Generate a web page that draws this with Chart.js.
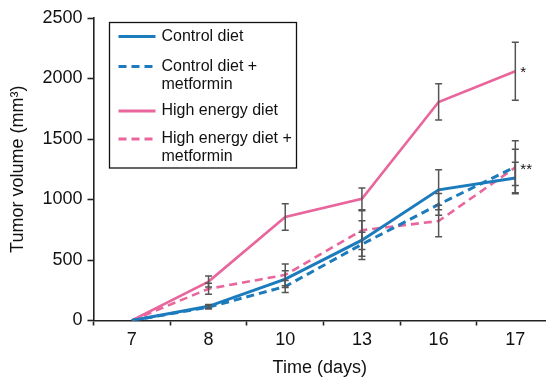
<!DOCTYPE html>
<html>
<head>
<meta charset="utf-8">
<script src="https://cdn.jsdelivr.net/npm/chart.js@4/dist/chart.umd.min.js"></script>
<style>
  html, body { margin: 0; padding: 0; background: #fff; }
  #wrap { width: 546px; height: 379px; }
</style>
</head>
<body>
<div id="wrap"><canvas id="c" width="546" height="379"></canvas></div>
<script>
// ---- data ----
const categories = ["7", "8", "10", "13", "16", "17"];
const seriesLabels = ["Control diet", "Control diet +\nmetformin", "High energy diet", "High energy diet +\nmetformin"];
const controlDiet      = [0, 117, 342, 664, 1080, 1178];
const controlMetformin = [0, 110, 281, 630, 959, 1270];
const highEnergy       = [0, 322, 855, 1006, 1806, 2060];
const highMetformin    = [0, 262, 377, 746, 822, 1265];
const controlDietErr      = [0, 15, 70, 160, 165, 130];
const controlMetforminErr = [0, 15, 50, 100, 90, 215];
const highEnergyErr       = [0, 45, 110, 90, 150, 240];
const highMetforminErr    = [0, 45, 90, 160, 130, 150];
const significance = ["", "", "*", "**"];
const yTicks = [0, 500, 1000, 1500, 2000, 2500];

const BLUE = '#1b7bbd';
const PINK = '#e8669c';
const FONT = "'Liberation Sans', Arial, sans-serif";

const seriesValues = [controlDiet, controlMetformin, highEnergy, highMetformin];
const seriesErrors = [controlDietErr, controlMetforminErr, highEnergyErr, highMetforminErr];
const seriesColors = [BLUE, BLUE, PINK, PINK];
const seriesDash = [[], [8, 5], [], [8, 5]];

const datasets = seriesValues.map((vals, s) => ({
  label: seriesLabels[s],
  data: vals.map((v, i) => ({ x: i, y: v })),
  borderColor: seriesColors[s],
  backgroundColor: seriesColors[s],
  borderWidth: s < 2 ? 3 : 2.6,
  borderDash: seriesDash[s],
  pointRadius: 0,
  tension: 0,
  fill: false
}));

const errorBars = {
  id: 'errorBars',
  afterDatasetsDraw(chart) {
    const { ctx, scales: { x, y } } = chart;
    ctx.save();
    ctx.strokeStyle = '#555';
    ctx.lineWidth = 1.5;
    seriesValues.forEach((vals, s) => {
      vals.forEach((v, i) => {
        const e = seriesErrors[s][i];
        if (!e) return;
        const px = x.getPixelForValue(i);
        const top = y.getPixelForValue(v + e);
        const bot = y.getPixelForValue(v - e);
        ctx.beginPath();
        ctx.moveTo(px, top); ctx.lineTo(px, bot);
        ctx.moveTo(px - 3.5, top); ctx.lineTo(px + 3.5, top);
        ctx.moveTo(px - 3.5, bot); ctx.lineTo(px + 3.5, bot);
        ctx.stroke();
      });
    });
    // significance marks
    ctx.fillStyle = '#111';
    ctx.font = '15px ' + FONT;
    ctx.textBaseline = 'middle';
    ctx.textAlign = 'left';
    significance.forEach((t, s) => {
      if (!t) return;
      const last = seriesValues[s].length - 1;
      const px = x.getPixelForValue(last) + 5;
      const py = y.getPixelForValue(seriesValues[s][last]) + 2;
      ctx.fillText(t, px, py);
    });
    ctx.restore();
  }
};

const legendBox = {
  id: 'legendBox',
  afterDraw(chart) {
    const { ctx, chartArea } = chart;
    const left = chartArea.left + 16;
    const top = chartArea.top + 4.5;
    ctx.save();
    ctx.strokeStyle = '#111';
    ctx.lineWidth = 1.3;
    ctx.strokeRect(left, top, 187, 145.5);
    const rows = [14, 44, 88.5, 116.5];
    ctx.font = '16px ' + FONT;
    ctx.fillStyle = '#111';
    ctx.textBaseline = 'middle';
    ctx.textAlign = 'left';
    seriesLabels.forEach((lab, s) => {
      const ry = top + rows[s];
      ctx.strokeStyle = seriesColors[s];
      ctx.lineWidth = 3;
      ctx.setLineDash(seriesDash[s]);
      ctx.beginPath();
      ctx.moveTo(left + 9, ry);
      ctx.lineTo(left + 46, ry);
      ctx.stroke();
      ctx.setLineDash([]);
      lab.split('\n').forEach((line, k) => {
        ctx.fillText(line, left + 52, ry + k * 18);
      });
    });
    ctx.restore();
  }
};

new Chart(document.getElementById('c'), {
  type: 'line',
  data: { datasets },
  options: {
    responsive: false,
    devicePixelRatio: 1,
    animation: false,
    layout: { padding: { left: 0, right: 0, top: 18, bottom: 0 } },
    plugins: { legend: { display: false }, tooltip: { enabled: false } },
    scales: {
      x: {
        type: 'linear',
        min: -0.5,
        max: 5.4,
        afterBuildTicks(scale) {
          const t = [];
          for (let v = -0.5; v <= categories.length - 1 + 1e-9; v += 0.5) t.push({ value: v });
          scale.ticks = t;
        },
        afterFit(scale) { scale.height = 58.5; },
        border: { display: true, color: '#222', width: 1.6 },
        grid: {
          drawOnChartArea: false,
          drawTicks: true,
          tickLength: 5,
          tickWidth: 1.6,
          tickColor: (ctx) => (ctx.tick && Number.isInteger(ctx.tick.value)) ? 'rgba(0,0,0,0)' : '#222'
        },
        ticks: {
          autoSkip: false,
          maxRotation: 0,
          padding: 4,
          color: '#111',
          font: { family: FONT, size: 18 },
          callback: (v) => (Number.isInteger(v) && v >= 0 && v < categories.length) ? categories[v] : ''
        },
        title: {
          display: true,
          text: 'Time (days)',
          color: '#111',
          font: { family: FONT, size: 18 },
          padding: { top: 0, bottom: 0 }
        }
      },
      y: {
        min: 0,
        max: 2500,
        afterBuildTicks(scale) { scale.ticks = yTicks.map(v => ({ value: v })); },
        afterFit(scale) { scale.width = 93.5; },
        border: { display: true, color: '#222', width: 1.6 },
        grid: {
          drawOnChartArea: false,
          drawTicks: true,
          tickLength: 6,
          tickWidth: 1.6,
          tickColor: '#222'
        },
        ticks: {
          padding: 5,
          color: '#111',
          font: { family: FONT, size: 18 },
          callback: (v) => String(v)
        },
        title: {
          display: true,
          text: 'Tumor volume (mm³)',
          color: '#111',
          font: { family: FONT, size: 18 },
          padding: { top: 7, bottom: 0 }
        }
      }
    }
  },
  plugins: [errorBars, legendBox]
});
</script>
</body>
</html>
